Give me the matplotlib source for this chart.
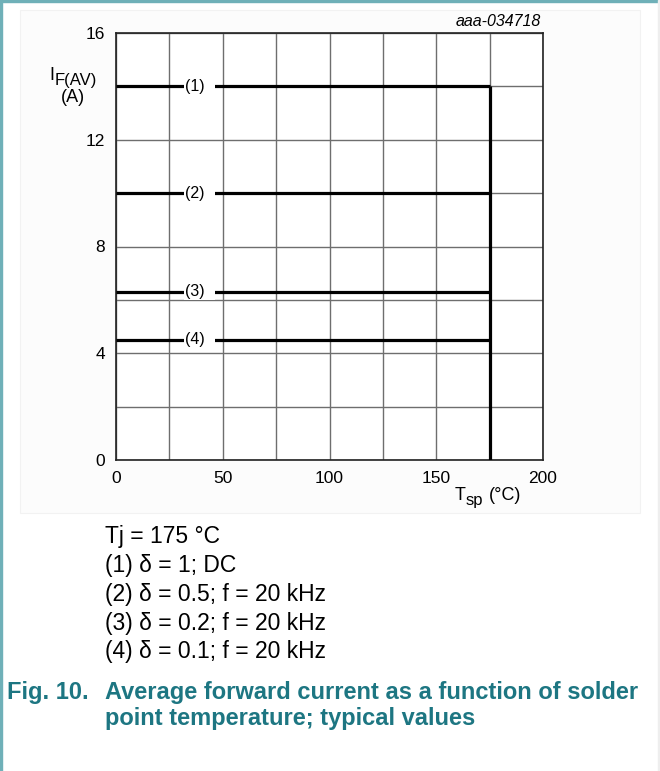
import matplotlib.pyplot as plt
from matplotlib.ticker import MultipleLocator
from matplotlib.patches import Rectangle

# ================= DATA =================

curve_labels = ["(1)", "(2)", "(3)", "(4)"]
current_levels = [14.0, 10.0, 6.3, 4.5]   # I_F(AV) in A
t_start = 0
t_max = 175                                # Tsp where current drops to 0

notes = [
    "Tj = 175 °C",
    "(1) δ = 1; DC",
    "(2) δ = 0.5; f = 20 kHz",
    "(3) δ = 0.2; f = 20 kHz",
    "(4) δ = 0.1; f = 20 kHz",
]

teal = "#1d7682"

W, H = 660, 771


def fx(px):
    return px / W


def fy(py):
    return 1 - py / H


# ================= FIGURE =================

plt.rcParams["font.family"] = ["Liberation Sans", "DejaVu Sans"]

fig = plt.figure(figsize=(6.6, 7.71), dpi=100)

# frame of the page
fig.patches.append(Rectangle((0.0, 0.0), 0.003, 1.0, transform=fig.transFigure,
                             color="#6fb0b8", zorder=-1))
fig.patches.append(Rectangle((0.0, 0.997), 1.0, 0.003, transform=fig.transFigure,
                             color="#6fb0b8", zorder=-1))
fig.patches.append(Rectangle((0.997, 0.0), 0.003, 1.0, transform=fig.transFigure,
                             color="#eeeeee", zorder=-1))
fig.patches.append(Rectangle((fx(20), fy(513)), fx(620), 503 / H, transform=fig.transFigure,
                             facecolor="#fcfcfc", edgecolor="#f2f2f2", lw=0.8, zorder=-2))

ax = fig.add_axes([fx(116), fy(460), 427 / W, 427 / H])
ax.set_zorder(1)
ax.set_xlim(0, 200)
ax.set_ylim(0, 16)

ax.xaxis.set_major_locator(MultipleLocator(50))
ax.xaxis.set_minor_locator(MultipleLocator(25))
ax.yaxis.set_major_locator(MultipleLocator(4))
ax.yaxis.set_minor_locator(MultipleLocator(2))
ax.grid(which="both", color="#6e6e6e", lw=1.0)
ax.set_axisbelow(True)
ax.tick_params(which="both", length=0, labelsize=12.5, pad=8)

for sp in ax.spines.values():
    sp.set_linewidth(1.2)
    sp.set_color("#222222")

# horizontal current limits
for lab, lvl in zip(curve_labels, current_levels):
    ax.plot([t_start, t_max], [lvl, lvl], color="black", lw=2.3,
            solid_capstyle="butt", zorder=3)
    ax.text(32.5, lvl, lab + "  ", ha="left", va="center", fontsize=11.5, zorder=4,
            bbox=dict(facecolor="white", edgecolor="none", pad=0.8))

# vertical drop at Tj
ax.plot([t_max, t_max], [0, max(current_levels)], color="black", lw=2.3,
        solid_capstyle="butt", zorder=3)

# axis labels
fig.text(fx(49), fy(75), "I", ha="left", va="center", fontsize=13)
fig.text(fx(55), fy(81), "F(AV)", ha="left", va="center", fontsize=12)
fig.text(fx(73), fy(98), "(A)", ha="center", va="center", fontsize=13)

fig.text(fx(455), fy(495), "T", ha="left", va="center", fontsize=13)
fig.text(fx(466), fy(501), "sp", ha="left", va="center", fontsize=12)
fig.text(fx(489), fy(495), "(°C)", ha="left", va="center", fontsize=13)

fig.text(fx(541), fy(21), "aaa-034718", ha="right", va="center",
         fontsize=11.5, style="italic")

# notes
for i, line in enumerate(notes):
    fig.text(fx(105), fy(537 + i * 28.7), line, ha="left",
             va="center", fontsize=16.5)

# caption
fig.text(fx(7), fy(693), "Fig. 10.", ha="left", va="center",
         fontsize=17, fontweight="bold", color=teal)
fig.text(fx(105), fy(693), "Average forward current as a function of solder",
         ha="left", va="center", fontsize=17, fontweight="bold", color=teal)
fig.text(fx(105), fy(718), "point temperature; typical values",
         ha="left", va="center", fontsize=17, fontweight="bold", color=teal)

fig.savefig("out.png", dpi=100)
